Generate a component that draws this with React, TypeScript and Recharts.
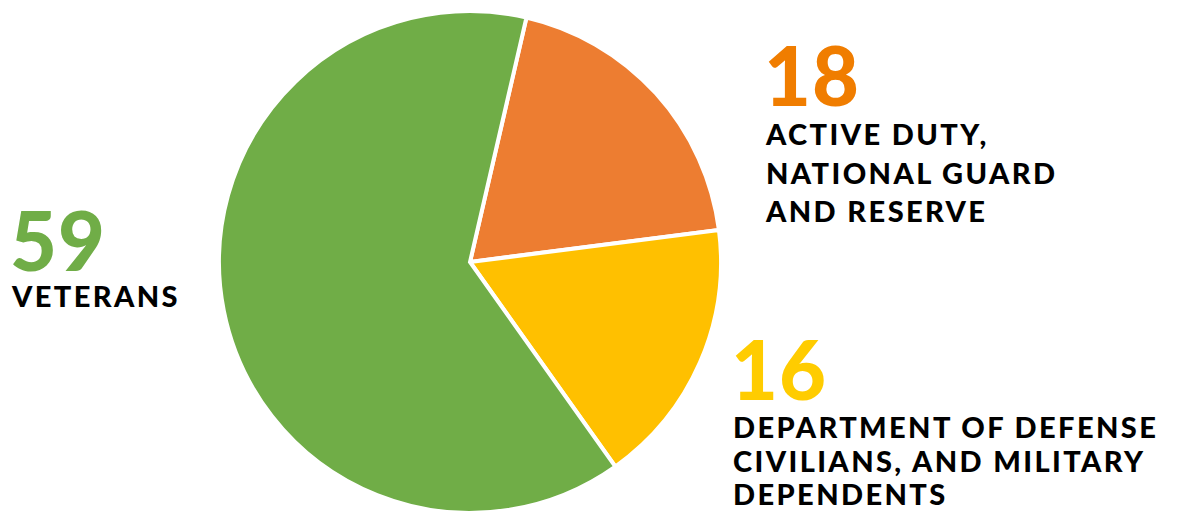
import React from 'react';
import { PieChart, Pie, Cell } from 'recharts';

// slice order runs clockwise from just right of 12 o'clock
const categories = ['Active duty, National Guard and Reserve', 'DoD civilians and military dependents', 'Veterans'];
const values = [18, 16, 59];
const sliceColors = ['#ED7D31', '#FFC000', '#70AD47'];
const numberColors = ['#F07D00', '#FFCC00', '#70AD47'];
const labelLines = [
    ['ACTIVE DUTY,', 'NATIONAL GUARD', 'AND RESERVE'],
    ['DEPARTMENT OF DEFENSE', 'CIVILIANS, AND MILITARY', 'DEPENDENTS'],
    ['VETERANS'],
];

const data = categories.map((name, i) => ({ name, value: values[i] }));

const FONT = 'Lato, "Open Sans", sans-serif';

// where each annotation block sits: number baseline, first text baseline, line step
const blocks = [
    { x: 764, numY: 106, textY: 145, step: 38.5 },
    { x: 731, numY: 400, textY: 438, step: 33.5 },
    { x: 10, numY: 271, textY: 307, step: 34 },
];

const Annotations = () => (
    <svg width={1177} height={517} style={{ position: 'absolute', left: 0, top: 0, pointerEvents: 'none' }}>
        {blocks.map((b, i) => (
            <g key={i}>
                <text x={b.x} y={b.numY} fill={numberColors[i]} fontFamily={FONT} fontWeight={900} fontSize={81} letterSpacing={1}>
                    {values[i]}
                </text>
                {labelLines[i].map((line, j) => (
                    <text
                        key={j}
                        x={b.x + 2}
                        y={b.textY + j * b.step}
                        fill="#000"
                        fontFamily={FONT}
                        fontWeight={900}
                        fontSize={29}
                        letterSpacing={2.4}
                    >
                        {line}
                    </text>
                ))}
            </g>
        ))}
    </svg>
);

export default function App() {
    return (
        <div style={{ position: 'absolute', left: 0, top: 0, width: 1177, height: 517, background: '#fff' }}>
            <PieChart width={1177} height={517} margin={{ top: 0, right: 0, bottom: 0, left: 0 }}>
                <Pie
                    data={data}
                    dataKey="value"
                    nameKey="name"
                    cx={470}
                    cy={262}
                    outerRadius={251}
                    startAngle={77}
                    endAngle={-283}
                    stroke="#fff"
                    strokeWidth={4}
                    isAnimationActive={false}
                >
                    {data.map((d, i) => (
                        <Cell key={d.name} fill={sliceColors[i]} />
                    ))}
                </Pie>
            </PieChart>
            <Annotations />
        </div>
    );
}
